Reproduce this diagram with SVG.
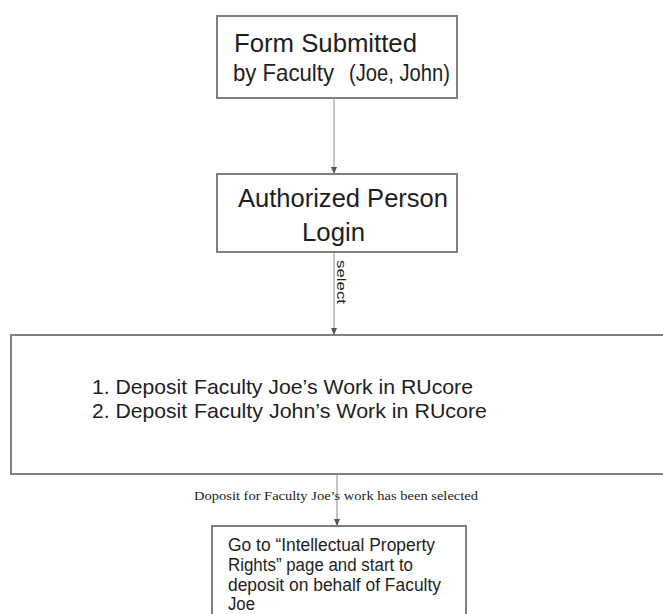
<svg xmlns="http://www.w3.org/2000/svg" width="663" height="614" viewBox="0 0 663 614">
<style>
.box{fill:#fff;stroke:#808080;stroke-width:2}
.t{font-family:"Liberation Sans","Noto Sans",Arial,sans-serif;fill:#1e1e1e}
.big{font-size:25px}
.b2{font-size:24px}
.mid{font-size:21px}
.sm{font-size:17.5px}
.lbl{font-family:"Liberation Serif","Times New Roman",serif;font-size:12px;fill:#222}
.sel{font-family:"Liberation Sans","Noto Sans",sans-serif;font-size:13px;fill:#222}
.c{stroke:#8a8a8a;stroke-width:1;fill:none}
</style>
<defs>
<marker id="ah" markerWidth="8" markerHeight="8" refX="7" refY="3" orient="auto" markerUnits="userSpaceOnUse">
<path d="M0,0 L7,3 L0,6 z" fill="#555"/>
</marker>
</defs>
<rect width="663" height="614" fill="#fff"/>
<g id="n1">
<rect class="box" x="217" y="16" width="240" height="82"/>
<text class="t big" x="234" y="52" textLength="183" lengthAdjust="spacingAndGlyphs">Form Submitted</text>
<text class="t b2" x="233" y="81" textLength="101" lengthAdjust="spacingAndGlyphs">by Faculty</text>
<text class="t b2" x="349" y="81" textLength="101" lengthAdjust="spacingAndGlyphs">(Joe, John)</text>
</g>
<g id="n2">
<rect class="box" x="217" y="174" width="240" height="78"/>
<text class="t big" x="238" y="207" textLength="210" lengthAdjust="spacingAndGlyphs">Authorized Person</text>
<text class="t big" x="302" y="241" textLength="63" lengthAdjust="spacingAndGlyphs">Login</text>
</g>
<g id="n3">
<rect class="box" x="11" y="335" width="670" height="139"/>
<text class="t mid" x="92" y="394" textLength="95" lengthAdjust="spacingAndGlyphs">1. Deposit</text>
<text class="t mid" x="194" y="394" textLength="279" lengthAdjust="spacingAndGlyphs">Faculty Joe’s Work in RUcore</text>
<text class="t mid" x="92" y="418" textLength="95" lengthAdjust="spacingAndGlyphs">2. Deposit</text>
<text class="t mid" x="194" y="418" textLength="293" lengthAdjust="spacingAndGlyphs">Faculty John’s Work in RUcore</text>
</g>
<g id="n4">
<rect class="box" x="212" y="526" width="254" height="110"/>
<text class="t sm" x="228" y="551" textLength="207" lengthAdjust="spacingAndGlyphs">Go to “Intellectual Property</text>
<text class="t sm" x="228" y="571" textLength="185" lengthAdjust="spacingAndGlyphs">Rights” page and start to</text>
<text class="t sm" x="228" y="591" textLength="213" lengthAdjust="spacingAndGlyphs">deposit on behalf of Faculty</text>
<text class="t sm" x="228" y="610" textLength="27" lengthAdjust="spacingAndGlyphs">Joe</text>
</g>
<g id="connectors">
<line class="c" x1="334" y1="98" x2="334" y2="174" marker-end="url(#ah)"/>
<line class="c" x1="334" y1="252" x2="334" y2="335" marker-end="url(#ah)"/>
<text class="sel" transform="translate(337,260) rotate(90)" textLength="44" lengthAdjust="spacingAndGlyphs">select</text>
<line class="c" x1="337" y1="474" x2="337" y2="526" marker-end="url(#ah)"/>
<text class="lbl" x="194" y="500" textLength="284" lengthAdjust="spacingAndGlyphs">Doposit for Faculty Joe’s work has been selected</text>
</g>
</svg>
